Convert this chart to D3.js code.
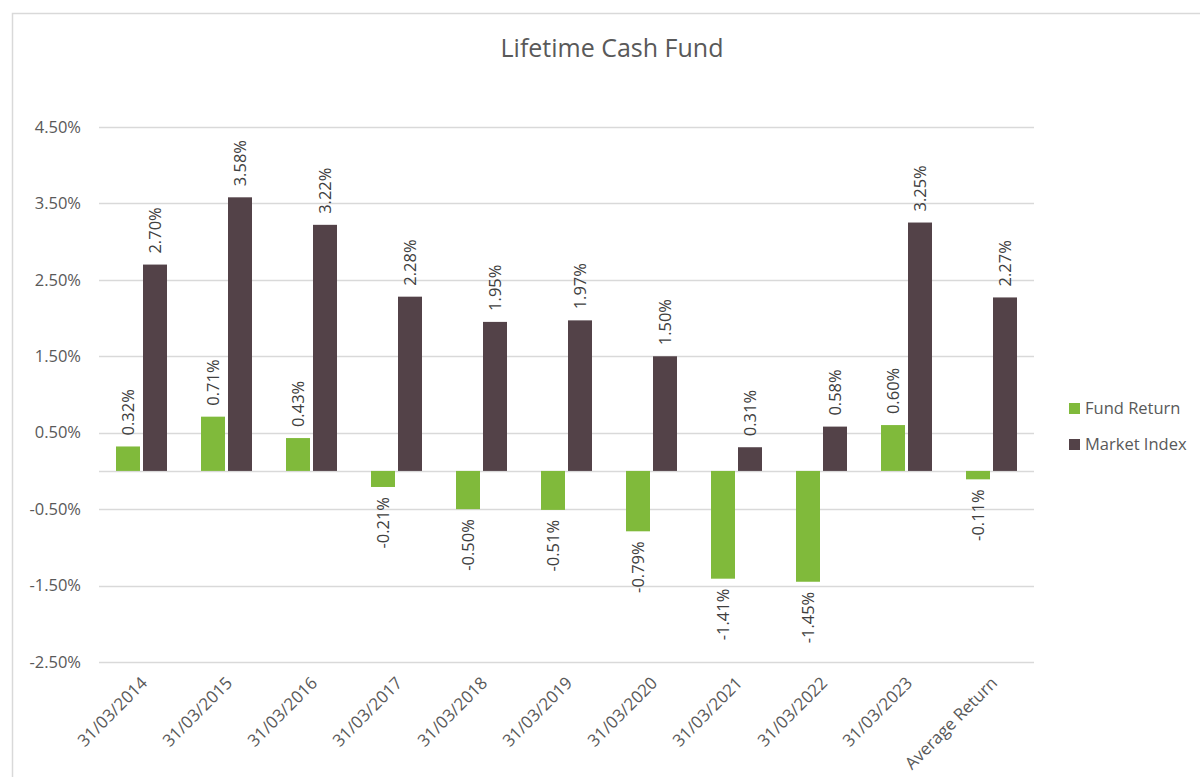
<!DOCTYPE html>
<html>
<head>
<meta charset="utf-8">
<script src="https://cdn.jsdelivr.net/npm/d3@7"></script>
<style>
  html, body { margin: 0; padding: 0; background: #fff; }
  svg { display: block; font-family: "Open Sans", sans-serif; }
</style>
</head>
<body>
<svg id="chart" width="1200" height="777"></svg>
<script>
const categories = ["31/03/2014","31/03/2015","31/03/2016","31/03/2017","31/03/2018","31/03/2019","31/03/2020","31/03/2021","31/03/2022","31/03/2023","Average Return"];
const fundReturn = [0.32, 0.71, 0.43, -0.21, -0.50, -0.51, -0.79, -1.41, -1.45, 0.60, -0.11];
const marketIndex = [2.70, 3.58, 3.22, 2.28, 1.95, 1.97, 1.50, 0.31, 0.58, 3.25, 2.27];
const seriesNames = ["Fund Return", "Market Index"];
const seriesColors = ["#80BA3B", "#534248"];
const yTicks = [-2.5, -1.5, -0.5, 0.5, 1.5, 2.5, 3.5, 4.5];
const title = "Lifetime Cash Fund";

const seriesValues = [fundReturn, marketIndex];
const svg = d3.select("#chart");

// outer chart border (left + top visible)
svg.append("path").attr("d", "M12.5,777 V13.5 H1200").attr("fill", "none").attr("stroke", "#D9D9D9").attr("stroke-width", 1.5);

const plot = { left: 99, right: 1034, top: 127, bottom: 662 };
const y = d3.scaleLinear().domain([-2.5, 4.5]).range([plot.bottom, plot.top]);
const x0 = d3.scaleBand().domain(categories).range([plot.left, plot.right]).padding(0);
const x1 = d3.scaleBand().domain(seriesNames).range([0, 51]).paddingInner(0.111).paddingOuter(0);
const groupOffset = (x0.bandwidth() - 51) / 2;

// gridlines
svg.append("g").selectAll("line").data(yTicks.concat([0])).join("line")
  .attr("x1", plot.left).attr("x2", plot.right)
  .attr("y1", d => Math.round(y(d)) + 0.5).attr("y2", d => Math.round(y(d)) + 0.5)
  .attr("stroke", "#D9D9D9").attr("stroke-width", 1.3);

// y axis labels
const yAxis = d3.axisLeft(y).tickValues(yTicks).tickSize(0).tickPadding(0).tickFormat(d => d.toFixed(2) + "%");
const ya = svg.append("g").attr("transform", `translate(81,0)`).call(yAxis);
ya.select(".domain").remove();
ya.selectAll("text").attr("fill", "#595959").style("font-size", "16.5px").style("font-family", "Open Sans");

// bars
const groups = svg.append("g").selectAll("g").data(categories).join("g")
  .attr("transform", d => `translate(${x0(d) + groupOffset},0)`);

groups.each(function(cat, i) {
  const g = d3.select(this);
  seriesNames.forEach((s, k) => {
    const v = seriesValues[k][i];
    const bx = x1(s);
    const bw = x1.bandwidth();
    g.append("rect")
      .attr("x", bx).attr("width", bw)
      .attr("y", y(Math.max(0, v))).attr("height", Math.abs(y(v) - y(0)))
      .attr("fill", seriesColors[k]);
    const cx = bx + bw / 2;
    const ly = v >= 0 ? y(v) - 11 : y(v) + 10;
    g.append("text")
      .attr("transform", `translate(${cx + 6},${ly}) rotate(-90)`)
      .attr("text-anchor", v >= 0 ? "start" : "end")
      .attr("fill", "#404040")
      .style("font-size", "16.5px")
      .text(v.toFixed(2) + "%");
  });
});

// x axis labels
const xAxis = d3.axisBottom(x0).tickSize(0).tickPadding(0);
const xa = svg.append("g").attr("transform", `translate(0,${plot.bottom})`).call(xAxis);
xa.select(".domain").remove();
xa.selectAll("text")
  .attr("fill", "#595959").style("font-size", "17px").style("font-family", "Open Sans")
  .attr("text-anchor", "end").attr("dy", null).attr("y", 0)
  .attr("transform", "translate(7,22) rotate(-45)");

// title
svg.append("text").attr("x", 612).attr("y", 57).attr("text-anchor", "middle")
  .attr("fill", "#595959").style("font-size", "25px").text(title);

// legend
const leg = svg.append("g").attr("transform", "translate(1069,403)");
seriesNames.forEach((s, k) => {
  leg.append("rect").attr("x", 0).attr("y", k * 36).attr("width", 11).attr("height", 11).attr("fill", seriesColors[k]);
  leg.append("text").attr("x", 16).attr("y", k * 36 + 11).attr("fill", "#595959").style("font-size", "16.5px").text(s);
});
</script>
</body>
</html>
